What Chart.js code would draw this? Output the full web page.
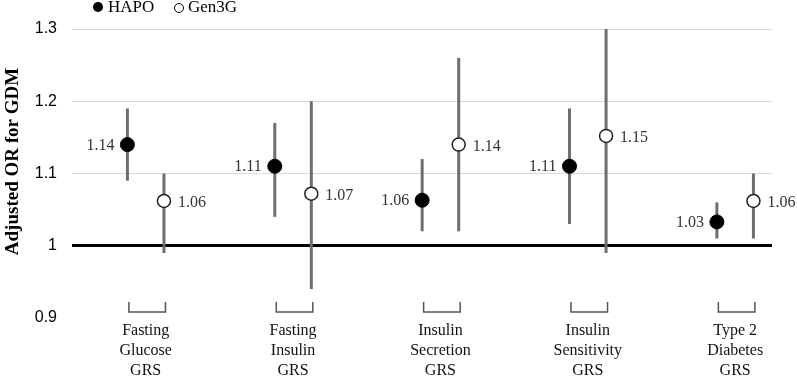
<!DOCTYPE html>
<html>
<head>
<meta charset="utf-8">
<script src="https://cdn.jsdelivr.net/npm/chart.js@4"></script>
<style>
html,body{margin:0;padding:0;background:#fff;}
#wrap{width:797px;height:380px;position:relative;}
</style>
</head>
<body>
<div id="wrap"><canvas id="c" width="797" height="380"></canvas></div>
<script>
// ---- data ----
const categories = [
  ["Fasting", "Glucose", "GRS"],
  ["Fasting", "Insulin", "GRS"],
  ["Insulin", "Secretion", "GRS"],
  ["Insulin", "Sensitivity", "GRS"],
  ["Type 2", "Diabetes", "GRS"]
];
const hapoOR    = [1.14, 1.11, 1.063, 1.11, 1.033];
const hapoLow   = [1.09, 1.04, 1.02, 1.03, 1.01];
const hapoHigh  = [1.19, 1.17, 1.12, 1.19, 1.06];
const hapoLabels = ["1.14", "1.11", "1.06", "1.11", "1.03"];
const gen3gOR   = [1.062, 1.072, 1.14, 1.152, 1.062];
const gen3gLow  = [0.99, 0.94, 1.02, 0.99, 1.01];
const gen3gHigh = [1.10, 1.20, 1.26, 1.30, 1.10];
const gen3gLabels = ["1.06", "1.07", "1.14", "1.15", "1.06"];
const yTicks = [0.9, 1.0, 1.1, 1.2, 1.3];
const yTitle = "Adjusted OR for GDM";

const OFF = 0.124; // series offset within a category (layout)
const serif = "'Liberation Serif', 'Times New Roman', serif";
const sans = "'Liberation Sans', Arial, sans-serif";

const hapoData = hapoOR.map((v, i) => ({x: i - OFF, y: v, lo: hapoLow[i], hi: hapoHigh[i], lab: hapoLabels[i]}));
const gen3gData = gen3gOR.map((v, i) => ({x: i + OFF, y: v, lo: gen3gLow[i], hi: gen3gHigh[i], lab: gen3gLabels[i]}));

const decor = {
  id: 'decor',
  beforeDatasetsDraw(chart) {
    const {ctx, scales: {x, y}} = chart;
    ctx.save();
    ctx.strokeStyle = '#6e6e6e';
    ctx.lineWidth = 3;
    chart.data.datasets.forEach(ds => {
      ds.data.forEach(p => {
        const px = x.getPixelForValue(p.x);
        ctx.beginPath();
        ctx.moveTo(px, y.getPixelForValue(p.lo));
        ctx.lineTo(px, y.getPixelForValue(p.hi));
        ctx.stroke();
      });
    });
    ctx.restore();
  },
  afterDatasetsDraw(chart) {
    const {ctx, scales: {x, y}} = chart;
    ctx.save();
    ctx.font = "16px " + serif;
    ctx.fillStyle = '#333';
    ctx.textBaseline = 'middle';
    chart.data.datasets.forEach((ds, di) => {
      ds.data.forEach(p => {
        const px = x.getPixelForValue(p.x);
        const py = y.getPixelForValue(p.y);
        if (di === 0) { ctx.textAlign = 'right'; ctx.fillText(p.lab, px - 13, py + 1); }
        else { ctx.textAlign = 'left'; ctx.fillText(p.lab, px + 14, py + 2); }
      });
    });
    const yBr = y.getPixelForValue(0.9);
    categories.forEach((lines, i) => {
      const x1 = x.getPixelForValue(i - OFF + 0.01);
      const x2 = x.getPixelForValue(i + OFF + 0.01);
      ctx.strokeStyle = '#555';
      ctx.lineWidth = 1.5;
      ctx.beginPath();
      ctx.moveTo(x1, yBr - 16);
      ctx.lineTo(x1, yBr - 6);
      ctx.lineTo(x2, yBr - 6);
      ctx.lineTo(x2, yBr - 16);
      ctx.stroke();
      const cx = x.getPixelForValue(i);
      ctx.fillStyle = '#111';
      ctx.font = "16px " + serif;
      ctx.textAlign = 'center';
      ctx.textBaseline = 'middle';
      lines.forEach((t, k) => ctx.fillText(t, cx, yBr + 13 + k * 20));
    });
    ctx.save();
    ctx.translate(13, (chart.chartArea.top + chart.chartArea.bottom) / 2 - 12);
    ctx.rotate(-Math.PI / 2);
    ctx.font = "bold 19px " + serif;
    ctx.fillStyle = '#000';
    ctx.textAlign = 'center';
    ctx.textBaseline = 'middle';
    ctx.fillText(yTitle, 0, 0);
    ctx.restore();
    ctx.font = "17px " + serif;
    ctx.textAlign = 'left';
    ctx.textBaseline = 'middle';
    ctx.fillStyle = '#000';
    ctx.beginPath(); ctx.arc(98, 7, 5, 0, Math.PI * 2); ctx.fill();
    ctx.fillText(chart.data.datasets[0].label, 108, 8);
    ctx.beginPath(); ctx.arc(179, 8, 4.5, 0, Math.PI * 2);
    ctx.fillStyle = '#fff'; ctx.fill();
    ctx.strokeStyle = '#000'; ctx.lineWidth = 1; ctx.stroke();
    ctx.fillStyle = '#000';
    ctx.fillText(chart.data.datasets[1].label, 188, 8);
    ctx.restore();
  }
};

new Chart(document.getElementById('c'), {
  type: 'scatter',
  data: {
    datasets: [
      {label: 'HAPO', data: hapoData, pointRadius: 7, pointHoverRadius: 7,
       backgroundColor: '#000', borderColor: '#000', pointBorderWidth: 1},
      {label: 'Gen3G', data: gen3gData, pointRadius: 6.5, pointHoverRadius: 6.5,
       backgroundColor: '#fff', borderColor: '#222', pointBorderWidth: 1.5}
    ]
  },
  options: {
    responsive: false,
    animation: false,
    events: [],
    layout: {padding: {left: 0, right: 25, top: 29, bottom: 62}},
    plugins: {legend: {display: false}, tooltip: {enabled: false}},
    scales: {
      x: {type: 'linear', min: -0.5, max: 4.25, display: false},
      y: {
        min: 0.9, max: 1.3,
        afterFit: s => { s.width = 72; },
        afterBuildTicks: s => { s.ticks = yTicks.map(v => ({value: v})); },
        border: {display: false},
        grid: {
          drawTicks: false,
          color: c => c.tick.value === 1 ? '#000' : (Math.abs(c.tick.value - 0.9) < 1e-6 ? 'rgba(0,0,0,0)' : '#d9d9d9'),
          lineWidth: c => c.tick.value === 1 ? 3 : 1
        },
        ticks: {
          padding: 15,
          color: '#000',
          font: {family: sans, size: 16},
          callback: v => String(+v.toFixed(1))
        }
      }
    }
  },
  plugins: [decor]
});
</script>
</body>
</html>
